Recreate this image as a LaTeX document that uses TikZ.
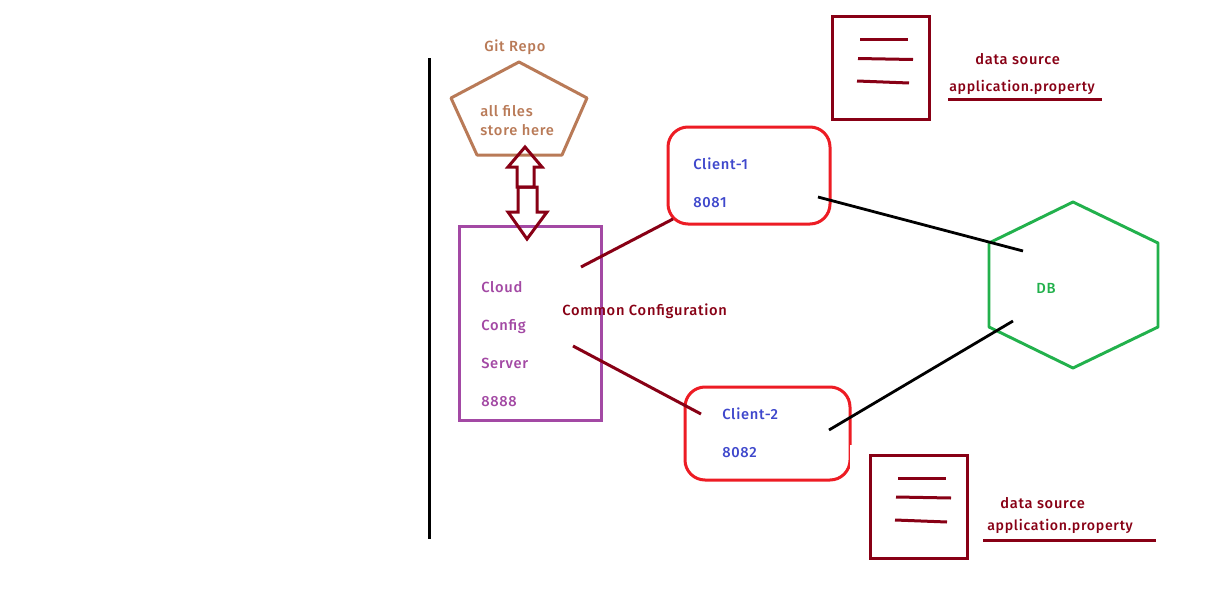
\documentclass[tikz,border=0pt]{standalone}
\usepackage{fontspec}
\setmainfont[LetterSpace=5]{Fira Sans Medium}
\definecolor{darkred}{HTML}{880015}
\definecolor{brn}{HTML}{B97A57}
\definecolor{prp}{HTML}{A349A4}
\definecolor{rd}{HTML}{ED1C24}
\definecolor{blu}{HTML}{3F48CC}
\definecolor{grn}{HTML}{22B14C}
\tikzset{
  lbl/.style={anchor=base west,inner sep=0pt,font=\fontsize{11pt}{13pt}\selectfont},
  redtxt/.style={lbl,text=darkred},
  proptxt/.style={lbl,text=darkred,font=\fontsize{10.6pt}{13pt}\selectfont},
  brntxt/.style={lbl,text=brn},
  prptxt/.style={lbl,text=prp},
  blutxt/.style={lbl,text=blu},
  grntxt/.style={lbl,text=grn},
  redline/.style={draw=darkred,line width=2.25pt},
  blk/.style={draw=black,line width=2.1pt},
  box/.style={anchor=north west,inner sep=0pt,outer sep=0pt,line width=2.25pt},
  clientbox/.style={box,draw=rd,rounded corners=15pt},
  docbox/.style={box,draw=darkred,minimum width=72.75pt,minimum height=77.25pt},
}
\begin{document}
\begin{tikzpicture}[x=0.75pt,y=-0.75pt]
\useasboundingbox (0,0) rectangle (1221,603);
\fill[white] (0,0) rectangle (1221,603);
% separator
\coordinate (sepa) at (429.5,58); \coordinate (sepb) at (429.5,539);
\draw[draw=black,line width=2.25pt] (sepa) -- (sepb);
% git repo pentagon
\draw[draw=brn,line width=2.25pt,line join=round] (519,62) -- (587,98) -- (562,155) -- (477,155) -- (451,98) -- cycle;
\node[brntxt] (git) at (484,51) {Git Repo};
\node[brntxt] (f1) at (480,116) {all files};
\node[brntxt] (f2) at (480,135) {store here};
% config server
\node[box,draw=prp,minimum width=106.5pt,minimum height=145.5pt] (cfg) at (459,226) {};
\node[prptxt] (c1) at (481,292) {Cloud};
\node[prptxt] (c2) at (481,330) {Config};
\node[prptxt] (c3) at (481,368) {Server};
\node[prptxt] (c4) at (481,406) {8888};
% arrows
\draw[redline,line join=miter] (525,147) -- (542,167) -- (534,167) -- (534,187) -- (517,187) -- (517,167) -- (508,167) -- cycle;
\draw[redline,line join=miter] (518,187) -- (537,187) -- (537,212) -- (547,212) -- (527,239) -- (508,212) -- (518,212) -- cycle;
% clients
\node[clientbox,minimum width=121.5pt,minimum height=72.75pt] (cl1) at (668,127) {};
\node[blutxt] (t1) at (693,169) {Client-1};
\node[blutxt] (t2) at (693,207) {8081};
\node[clientbox,minimum width=123.75pt,minimum height=69.75pt] (cl2) at (685,387) {};
\fill[white] (849.5,445) rectangle (853,472);
\node[blutxt] (t3) at (722,419) {Client-2};
\node[blutxt] (t4) at (722,457) {8082};
% db
\draw[draw=grn,line width=2.2pt,line join=round] (1073,202) -- (1158,243) -- (1158,327) -- (1073,368) -- (989,327) -- (989,243) -- cycle;
\node[grntxt] (db) at (1036,293) {DB};
% connectors
\coordinate (a1) at (581,267); \coordinate (a2) at (673,219);
\coordinate (b1) at (573,346); \coordinate (b2) at (701,414);
\coordinate (d1) at (818,197); \coordinate (d2) at (1023,251);
\coordinate (e1) at (829,430); \coordinate (e2) at (1013,321);
\draw[redline] (a1) -- (a2);
\draw[redline] (b1) -- (b2);
\draw[blk] (d1) -- (d2);
\draw[blk] (e1) -- (e2);
\node[redtxt] (cc) at (562,315) {Common Configuration};
% doc 1
\node[docbox] (doc1) at (832,16) {};
\coordinate (p1a) at (860,39); \coordinate (p1b) at (908,39);
\coordinate (p2a) at (858,58.5); \coordinate (p2b) at (913,59.5);
\coordinate (p3a) at (857,81); \coordinate (p3b) at (909,83);
\draw[redline] (p1a) -- (p1b);
\draw[redline] (p2a) -- (p2b);
\draw[redline] (p3a) -- (p3b);
\node[redtxt] (s1) at (975,64) {data source};
\node[proptxt] (s2) at (949,91) {application.property};
\coordinate (u1a) at (948,99); \coordinate (u1b) at (1102,99);
\draw[redline] (u1a) -- (u1b);
% doc 2
\node[docbox] (doc2) at (870,455) {};
\coordinate (q1a) at (898,478); \coordinate (q1b) at (946,478);
\coordinate (q2a) at (896,497); \coordinate (q2b) at (951,498);
\coordinate (q3a) at (895,520); \coordinate (q3b) at (947,522);
\draw[redline] (q1a) -- (q1b);
\draw[redline] (q2a) -- (q2b);
\draw[redline] (q3a) -- (q3b);
\node[redtxt] (s3) at (1000,508) {data source};
\node[proptxt] (s4) at (987,530) {application.property};
\coordinate (u2a) at (983,540); \coordinate (u2b) at (1156,540);
\draw[redline] (u2a) -- (u2b);
\end{tikzpicture}
\end{document}
